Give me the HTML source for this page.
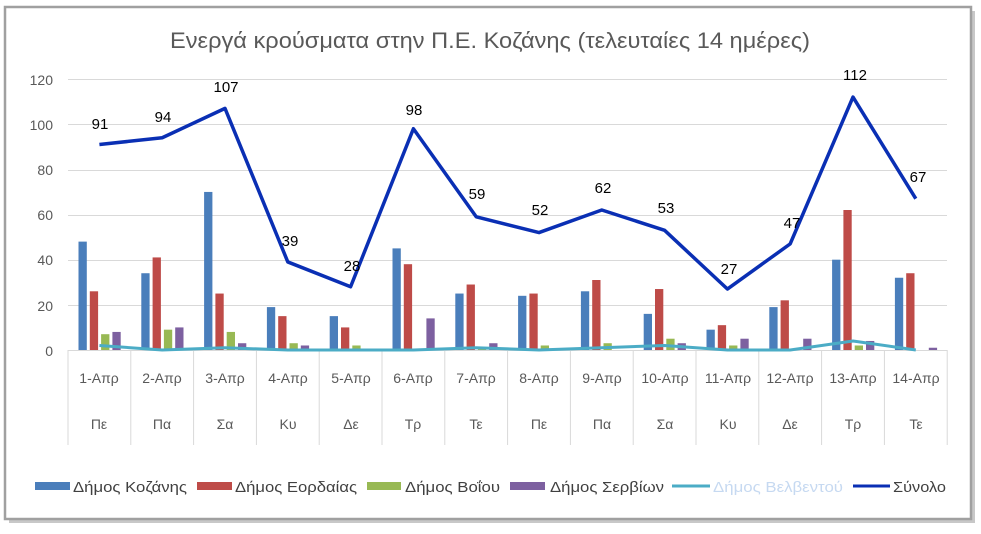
<!DOCTYPE html>
<html><head><meta charset="utf-8"><style>
body{margin:0;background:#fff;}
svg{display:block;font-family:"Liberation Sans","DejaVu Sans",sans-serif;}
</style></head><body>
<svg id="s" width="981" height="534" viewBox="0 0 981 534" xmlns="http://www.w3.org/2000/svg">
<rect x="0" y="0" width="981" height="534" fill="#fff"/>
<rect x="9" y="11" width="966" height="512" fill="#c8c8c8"/>
<rect x="5" y="7" width="966" height="512" fill="#fff" stroke="#a0a0a0" stroke-width="2.5"/>
<text x="170" y="48" textLength="640" lengthAdjust="spacingAndGlyphs" font-size="22" fill="#595959">Ενεργά κρούσματα στην Π.Ε. Κοζάνης (τελευταίες 14 ημέρες)</text>
<g stroke="#d9d9d9" stroke-width="1">
<line x1="68" x2="947" y1="79.5" y2="79.5"/><line x1="68" x2="947" y1="124.5" y2="124.5"/>
<line x1="68" x2="947" y1="170.5" y2="170.5"/><line x1="68" x2="947" y1="215.5" y2="215.5"/>
<line x1="68" x2="947" y1="260.5" y2="260.5"/><line x1="68" x2="947" y1="305.5" y2="305.5"/>
<line x1="68" x2="947" y1="350.5" y2="350.5"/>
</g>
<g id="sep" stroke="#d9d9d9"></g>
<g font-size="14" fill="#595959" text-anchor="end">
<text x="53" y="85">120</text><text x="53" y="130">100</text><text x="53" y="175">80</text>
<text x="53" y="220">60</text><text x="53" y="265">40</text><text x="53" y="311">20</text><text x="53" y="356">0</text>
</g>
<g id="bars"></g>
<g id="lines"></g>
<g font-size="14" fill="#595959" text-anchor="middle">
<text x="99" y="383">1-Απρ</text><text x="162" y="383">2-Απρ</text><text x="225" y="383">3-Απρ</text><text x="288" y="383">4-Απρ</text><text x="351" y="383">5-Απρ</text><text x="413" y="383">6-Απρ</text><text x="476" y="383">7-Απρ</text><text x="539" y="383">8-Απρ</text><text x="602" y="383">9-Απρ</text><text x="665" y="383">10-Απρ</text><text x="728" y="383">11-Απρ</text><text x="790" y="383">12-Απρ</text><text x="853" y="383">13-Απρ</text><text x="916" y="383">14-Απρ</text>
<text x="99" y="429">Πε</text><text x="162" y="429">Πα</text><text x="225" y="429">Σα</text><text x="288" y="429">Κυ</text><text x="351" y="429">Δε</text><text x="413" y="429">Τρ</text><text x="476" y="429">Τε</text><text x="539" y="429">Πε</text><text x="602" y="429">Πα</text><text x="665" y="429">Σα</text><text x="728" y="429">Κυ</text><text x="790" y="429">Δε</text><text x="853" y="429">Τρ</text><text x="916" y="429">Τε</text>
</g>
<g font-size="15" fill="#000" text-anchor="middle">
<text x="100" y="129">91</text><text x="163" y="122">94</text><text x="226" y="92">107</text><text x="290" y="246">39</text><text x="352" y="271">28</text><text x="414" y="115">98</text><text x="477" y="199">59</text><text x="540" y="215">52</text><text x="603" y="193">62</text><text x="666" y="213">53</text><text x="729" y="274">27</text><text x="792" y="228">47</text><text x="855" y="80">112</text><text x="918" y="182">67</text>
</g>
<g font-size="15">
<rect x="35" y="482" width="35" height="8" fill="#4a7ebb"/><text x="73" y="492" textLength="114" lengthAdjust="spacingAndGlyphs" fill="#404040">Δήμος Κοζάνης</text>
<rect x="197" y="482" width="35" height="8" fill="#be4b48"/><text x="235" y="492" textLength="122" lengthAdjust="spacingAndGlyphs" fill="#404040">Δήμος Εορδαίας</text>
<rect x="367" y="482" width="34" height="8" fill="#98b954"/><text x="405" y="492" textLength="95" lengthAdjust="spacingAndGlyphs" fill="#404040">Δήμος Βοΐου</text>
<rect x="510" y="482" width="35" height="8" fill="#7d60a0"/><text x="550" y="492" textLength="114" lengthAdjust="spacingAndGlyphs" fill="#404040">Δήμος Σερβίων</text>
<line x1="672" x2="710" y1="486" y2="486" stroke="#4bacc6" stroke-width="3"/><text x="713" y="492" textLength="130" lengthAdjust="spacingAndGlyphs" fill="#c6d9f1">Δήμος Βελβεντού</text>
<line x1="853" x2="890" y1="486" y2="486" stroke="#0a2fb4" stroke-width="3"/><text x="893" y="492" textLength="53" lengthAdjust="spacingAndGlyphs" fill="#404040">Σύνολο</text>
</g>
</svg>
<script>
var NS="http://www.w3.org/2000/svg";
function el(p,t,a){var e=document.createElementNS(NS,t);for(var k in a)e.setAttribute(k,a[k]);p.appendChild(e);return e;}
var sep=document.getElementById('sep');
for(var i=0;i<=14;i++){var x=68+62.8*i;el(sep,'line',{x1:x,x2:x,y1:350,y2:445});}
var D=[[48,34,70,19,15,45,25,24,26,16,9,19,40,32],[26,41,25,15,10,38,29,25,31,27,11,22,62,34],[7,9,8,3,2,0,1,2,3,5,2,0,2,0],[8,10,3,2,0,14,3,0,0,3,5,5,4,1]];
var C=["#4a7ebb","#be4b48","#98b954","#7d60a0"];
var bars=document.getElementById('bars');
var Y=function(v){return 350-v*2.258;};
for(var s=0;s<4;s++)for(var i=0;i<14;i++){var x=68+62.8*i+10.5+s*11.3;var v=D[s][i];if(v>0)el(bars,'rect',{x:x,y:Y(v),width:8.3,height:v*2.258,fill:C[s]});}
var V=[2,0,1,0,0,0,1,0,1,2,0,0,4,0],T=[91,94,107,39,28,98,59,52,62,53,27,47,112,67];
var L=document.getElementById('lines');
function pts(a){return a.map(function(v,i){return (99.4+62.8*i)+","+Y(v);}).join(" ");}
el(L,'polyline',{points:pts(V),fill:"none",stroke:"#4bacc6","stroke-width":3,"stroke-linejoin":"round"});
el(L,'polyline',{points:pts(T),fill:"none",stroke:"#0a2fb4","stroke-width":3.5,"stroke-linejoin":"round"});
</script>
</body></html>
